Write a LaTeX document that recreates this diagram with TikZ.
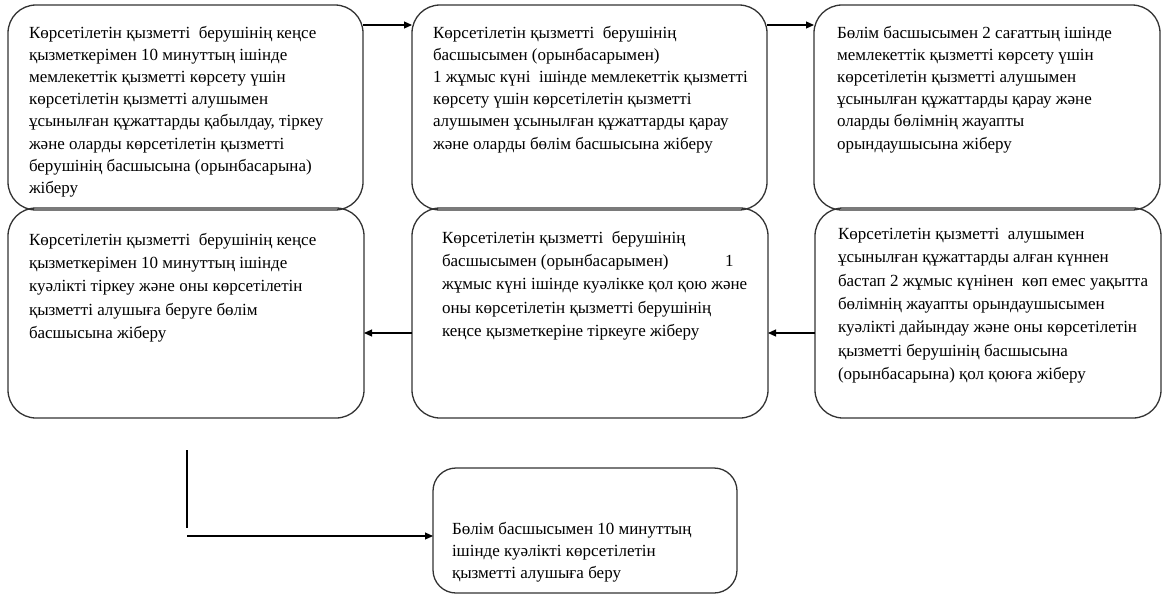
\documentclass[tikz,border=0pt]{standalone}
\usepackage{fontspec}
\setmainfont{Liberation Serif}
\usetikzlibrary{arrows.meta}
\definecolor{boxgray}{HTML}{333333}
\begin{document}
\begin{tikzpicture}[x=1pt,y=-1pt,
  box/.style={draw=boxgray, line width=1.3pt, rounded corners=28pt, inner sep=0pt, outer sep=0pt},
  smallbox/.style={box, rounded corners=23pt},
  txt/.style={anchor=north west, inner sep=0pt, outer sep=0pt, align=left, text=black},
  rowone/.style={txt, font=\fontsize{17}{22.2}\selectfont},
  rowtwo/.style={txt, font=\fontsize{17}{23.4}\selectfont},
  arr/.style={draw=black, line width=1.1pt, -{Triangle[length=8pt,width=7pt]}},
  plain/.style={draw=black, line width=1.1pt},
]
\useasboundingbox (0,0) rectangle (1162,595);

% boxes
\node[box, minimum width=355pt, minimum height=205pt] (b1) at (185.5,107.5) {};
\node[box, minimum width=355pt, minimum height=205pt] (b2) at (589.5,107.5) {};
\node[box, minimum width=346pt, minimum height=205pt] (b3) at (987,107.5) {};
\node[box, minimum width=356pt, minimum height=210pt] (b4) at (186,313) {};
\node[box, minimum width=356pt, minimum height=210pt] (b5) at (590,313) {};
\node[box, minimum width=346pt, minimum height=210pt] (b6) at (988,313) {};
\node[smallbox, minimum width=304pt, minimum height=125pt] (b7) at (585,530.5) {};

% texts
\node[rowone] (t1) at (29,26) {Көрсетілетін қызметті \ берушінің кеңсе\\
қызметкерімен 10 минуттың ішінде\\
мемлекеттік қызметті көрсету үшін\\
көрсетілетін қызметті алушымен\\
ұсынылған құжаттарды қабылдау, тіркеу\\
және оларды көрсетілетін қызметті\\
берушінің басшысына (орынбасарына)\\
жіберу};

\node[rowone] (t2) at (433,26) {Көрсетілетін қызметті \ берушінің\\
басшысымен (орынбасарымен)\\
1 жұмыс күні \ ішінде мемлекеттік қызметті\\
көрсету үшін көрсетілетін қызметті\\
алушымен ұсынылған құжаттарды қарау\\
және оларды бөлім басшысына жіберу};

\node[rowone] (t3) at (837,26) {Бөлім басшысымен 2 сағаттың ішінде\\
мемлекеттік қызметті көрсету үшін\\
көрсетілетін қызметті алушымен\\
ұсынылған құжаттарды қарау және\\
оларды бөлімнің жауапты\\
орындаушысына жіберу};

\node[rowtwo] (t4) at (29,233) {Көрсетілетін қызметті \ берушінің кеңсе\\
қызметкерімен 10 минуттың ішінде\\
куәлікті тіркеу және оны көрсетілетін\\
қызметті алушыға беруге бөлім\\
басшысына жіберу};

\node[rowtwo] (t5) at (442,231) {Көрсетілетін қызметті \ берушінің\\
\makebox[283pt][l]{басшысымен (орынбасарымен)}1\\
жұмыс күні ішінде куәлікке қол қою және\\
оны көрсетілетін қызметті берушінің\\
кеңсе қызметкеріне тіркеуге жіберу};

\node[rowtwo] (t6) at (838,228) {Көрсетілетін қызметті \ алушымен\\
ұсынылған құжаттарды алған күннен\\
бастап 2 жұмыс күнінен \ көп емес уақытта\\
бөлімнің жауапты орындаушысымен\\
куәлікті дайындау және оны көрсетілетін\\
қызметті берушінің басшысына\\
(орынбасарына) қол қоюға жіберу};

\node[rowone] (t7) at (452,522) {Бөлім басшысымен 10 минуттың\\
ішінде куәлікті көрсетілетін\\
қызметті алушыға беру};

% connectors
\draw[arr] ([yshift=-20pt]b1.north east) -- ([yshift=-20pt]b2.north west);
\draw[arr] ([yshift=-20pt]b2.north east) -- ([yshift=-20pt]b3.north west);
\draw[arr] ([yshift=-125pt]b6.north west) -- ([yshift=-125pt]b5.north east);
\draw[arr] ([yshift=-125pt]b5.north west) -- ([yshift=-125pt]b4.north east);

\coordinate (v1) at ([yshift=-32pt,xshift=1pt]b4.south);
\coordinate (v2) at ([yshift=-110pt,xshift=1pt]b4.south);
\coordinate (h1) at ([yshift=-118pt,xshift=1pt]b4.south);
\draw[plain] (v1) -- (v2);
\draw[arr] (h1) -- (h1 -| b7.west);
\end{tikzpicture}
\end{document}
